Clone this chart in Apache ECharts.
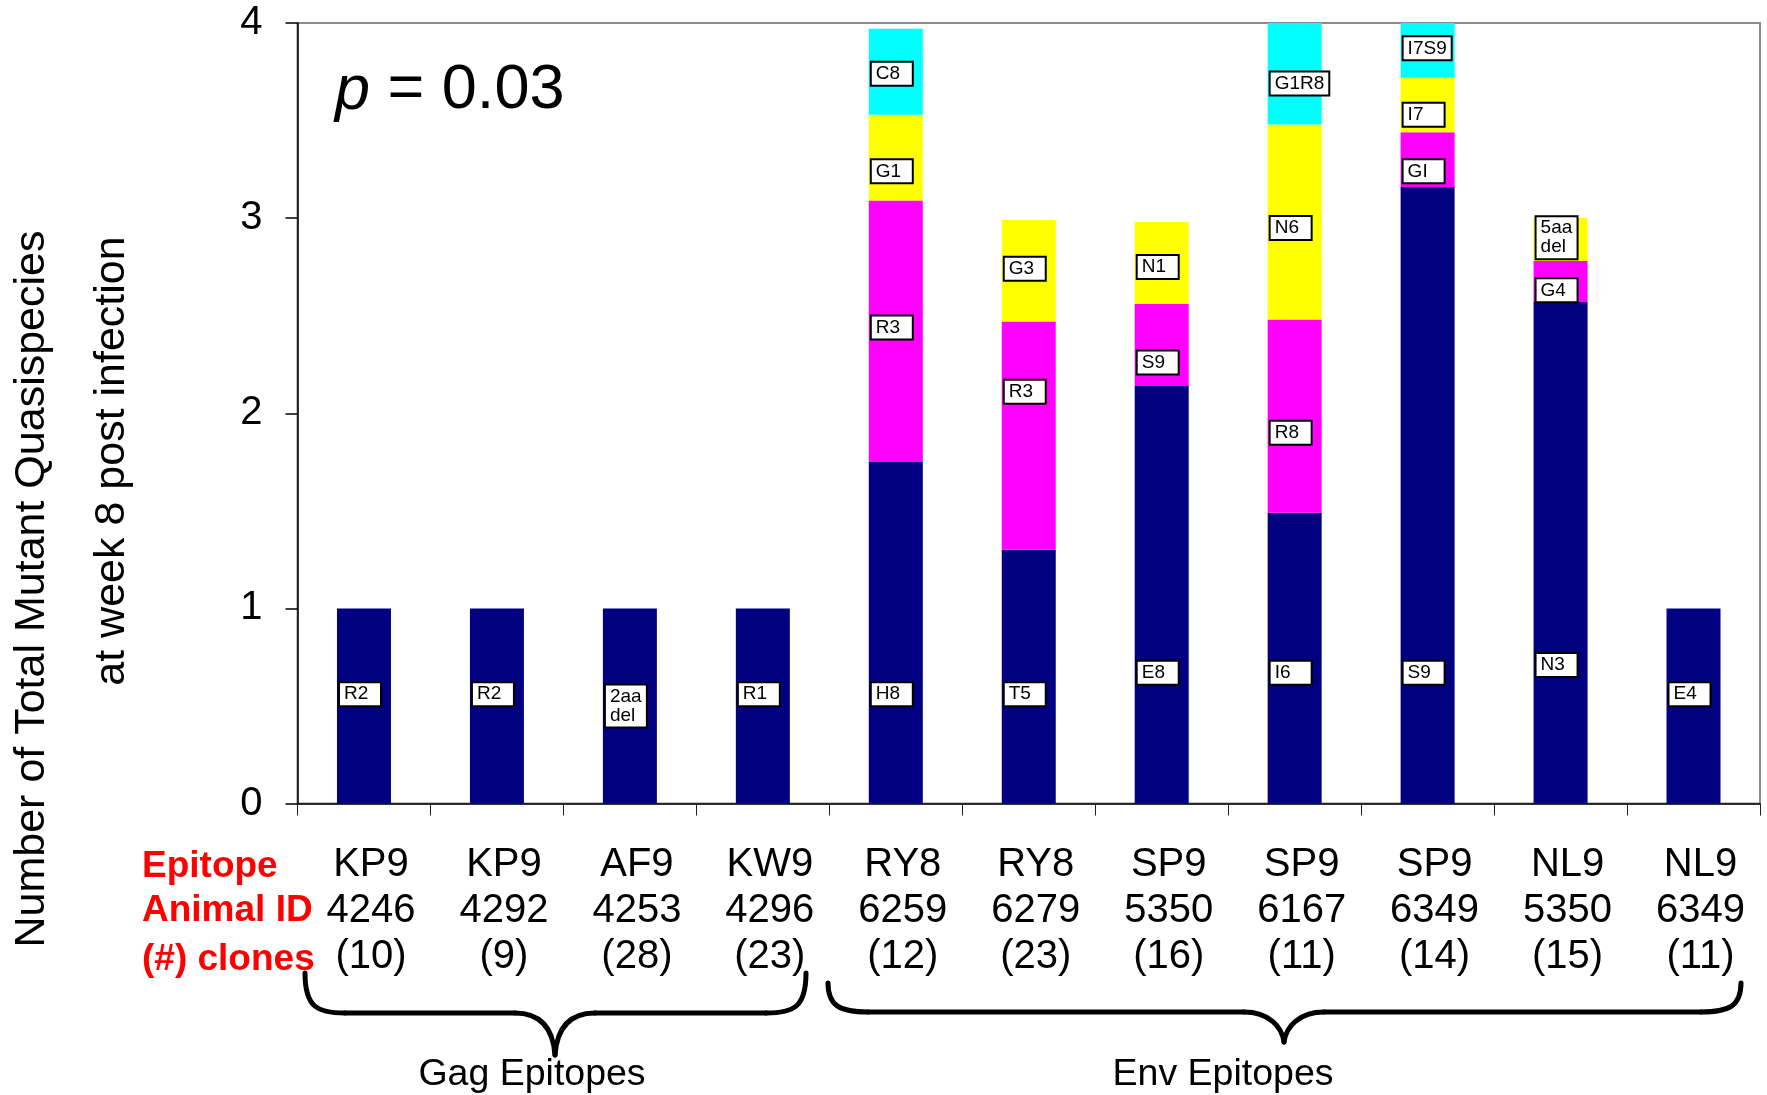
<!DOCTYPE html>
<html><head><meta charset="utf-8">
<script src="https://cdn.jsdelivr.net/npm/echarts@6/dist/echarts.min.js"></script>
<style>html,body{margin:0;padding:0;background:#fff}#c{width:1767px;height:1095px}</style>
</head><body><div id="c"></div>
<script>
// ---- data ----
const epitopes  = ['KP9','KP9','AF9','KW9','RY8','RY8','SP9','SP9','SP9','NL9','NL9'];
const animalIds = ['4246','4292','4253','4296','6259','6279','5350','6167','6349','5350','6349'];
const clones    = ['(10)','(9)','(28)','(23)','(12)','(23)','(16)','(11)','(14)','(15)','(11)'];

const navyValues    = [1, 1, 1, 1, 1.75, 1.30, 2.14, 1.49, 3.16, 2.57, 1];
const magentaValues = [null, null, null, null, 1.34, 1.17, 0.42, 0.99, 0.28, 0.21, null];
const yellowValues  = [null, null, null, null, 0.44, 0.52, 0.42, 1.00, 0.28, 0.22, null];
const cyanValues    = [null, null, null, null, 0.44, null, null, 0.52, 0.30, null, null];

const navyNames    = ['R2','R2','2aa\ndel','R1','H8','T5','E8','I6','S9','N3','E4'];
const magentaNames = [null,null,null,null,'R3','R3','S9','R8','GI','G4',null];
const yellowNames  = [null,null,null,null,'G1','G3','N1','N6','I7','5aa\ndel',null];
const cyanNames    = [null,null,null,null,'C8',null,null,'G1R8','I7S9',null,null];

// label anchor levels (in axis units)
const navyLabelAt    = [0.56,0.56,0.50,0.56,0.56,0.56,0.67,0.67,0.67,0.71,0.56];
const magentaLabelAt = [null,null,null,null,2.44,2.11,2.26,1.90,3.24,2.63,null];
const yellowLabelAt  = [null,null,null,null,3.24,2.74,2.75,2.95,3.53,2.90,null];
const cyanLabelAt    = [null,null,null,null,3.74,null,null,3.69,3.87,null,null];

const yTicks = [0, 1, 2, 3, 4];
const pValueText = '0.03';
const rowHeaders = ['Epitope', 'Animal ID', '(#) clones'];
const groupNames = ['Gag Epitopes', 'Env Epitopes'];
const yTitle = ['Number of Total Mutant Quasispecies', 'at week 8 post infection'];

// ---- chart ----
const FONT = 'Liberation Sans, Arial, sans-serif';
const categories = epitopes.map((e, i) => e + '\n' + animalIds[i] + '\n' + clones[i]);

function barSeries(name, values, color) {
  return { name, type: 'bar', stack: 'total', data: values, barWidth: 54,
    itemStyle: { color, opacity: 1 }, silent: true, animation: false };
}
function labelSeries(names, at) {
  const data = [];
  names.forEach((n, i) => {
    if (n == null) return;
    const item = { value: [i, at[i]], name: n };
    const oneLine = n.indexOf('\n') < 0;
    if (!(oneLine && n.length > 2)) item.label = { width: 32 };
    data.push(item);
  });
  return {
    type: 'scatter', symbolSize: 0, z: 10, silent: true, animation: false, data,
    itemStyle: { opacity: 1, color: '#000' },
    label: {
      show: true, position: 'right', distance: 0, offset: [-24, 0],
      formatter: p => p.name, fontFamily: FONT, fontSize: 19, lineHeight: 19,
      color: '#000', backgroundColor: '#ffffff', borderColor: '#000000', borderWidth: 2,
      padding: [2, 4, 1, 4], align: 'left', opacity: 1
    }
  };
}

// brace decoration built from bezier curves and straight lines
function brace(x0, x1, tipX, topY, midY, tipY) {
  const st = { stroke: '#000', lineWidth: 5, fill: null, lineCap: 'round' };
  const r = 40;
  const els = [];
  els.push({ type: 'bezierCurve', silent: true, style: st,
    shape: { x1: x0, y1: topY, cpx1: x0, cpy1: midY - 6, cpx2: x0 + 12, cpy2: midY, x2: x0 + r, y2: midY } });
  els.push({ type: 'line', silent: true, style: st, shape: { x1: x0 + r, y1: midY, x2: tipX - r, y2: midY } });
  els.push({ type: 'bezierCurve', silent: true, style: st,
    shape: { x1: tipX - r, y1: midY, cpx1: tipX - 15, cpy1: midY, cpx2: tipX - 2, cpy2: midY + 15, x2: tipX, y2: tipY } });
  els.push({ type: 'bezierCurve', silent: true, style: st,
    shape: { x1: tipX, y1: tipY, cpx1: tipX + 2, cpy1: midY + 15, cpx2: tipX + 15, cpy2: midY, x2: tipX + r, y2: midY } });
  els.push({ type: 'line', silent: true, style: st, shape: { x1: tipX + r, y1: midY, x2: x1 - r, y2: midY } });
  els.push({ type: 'bezierCurve', silent: true, style: st,
    shape: { x1: x1 - r, y1: midY, cpx1: x1 - 12, cpy1: midY, cpx2: x1, cpy2: midY - 6, x2: x1, y2: topY } });
  return els;
}

const chart = echarts.init(document.getElementById('c'), null, { renderer: 'canvas' });
chart.setOption({
  animation: false,
  backgroundColor: '#fff',
  grid: { left: 297.5, right: 7, top: 23, bottom: 291.5, show: true,
    borderColor: '#8c8c8c', borderWidth: 2, backgroundColor: 'transparent' },
  xAxis: {
    type: 'category', data: categories,
    axisLine: { lineStyle: { color: '#000', width: 1.5 } },
    axisTick: { show: true, interval: 0, length: 12, lineStyle: { color: '#222', width: 1 } },
    axisLabel: { interval: 0, margin: 38, fontFamily: FONT, fontSize: 40, lineHeight: 46,
      color: '#000', padding: [0, 0, 0, 14] }
  },
  yAxis: {
    type: 'value', min: yTicks[0], max: yTicks[yTicks.length - 1], interval: 1,
    splitLine: { show: false },
    axisLine: { show: true, lineStyle: { color: '#000', width: 1.5 } },
    axisTick: { show: true, length: 12, lineStyle: { color: '#000', width: 1.5 } },
    axisLabel: { margin: 35, fontFamily: FONT, fontSize: 40, color: '#000' }
  },
  series: [
    barSeries('navy', navyValues, '#000080'),
    barSeries('magenta', magentaValues, '#ff00ff'),
    barSeries('yellow', yellowValues, '#ffff00'),
    barSeries('cyan', cyanValues, '#00ffff'),
    labelSeries(navyNames, navyLabelAt),
    labelSeries(magentaNames, magentaLabelAt),
    labelSeries(yellowNames, yellowLabelAt),
    labelSeries(cyanNames, cyanLabelAt)
  ],
  graphic: [
    { type: 'text', x: 32, y: 589, rotation: Math.PI / 2, silent: true,
      style: { text: yTitle[0], font: '43px ' + FONT, fill: '#000', align: 'center', verticalAlign: 'middle' } },
    { type: 'text', x: 112, y: 461, rotation: Math.PI / 2, silent: true,
      style: { text: yTitle[1], font: '43px ' + FONT, fill: '#000', align: 'center', verticalAlign: 'middle' } },
    { type: 'text', x: 335, y: 91, silent: true, z: 20,
      style: { text: '{i|p} = ' + pValueText, font: '63px ' + FONT, fill: '#000', align: 'left', verticalAlign: 'middle',
        rich: { i: { fontStyle: 'italic', fontSize: 63, fontFamily: FONT } } } },
    { type: 'text', x: 142, y: 867, silent: true,
      style: { text: rowHeaders[0], font: 'bold 37px ' + FONT, fill: '#ff0000', align: 'left', verticalAlign: 'middle' } },
    { type: 'text', x: 142, y: 911, silent: true,
      style: { text: rowHeaders[1], font: 'bold 37px ' + FONT, fill: '#ff0000', align: 'left', verticalAlign: 'middle' } },
    { type: 'text', x: 142, y: 960, silent: true,
      style: { text: rowHeaders[2], font: 'bold 37px ' + FONT, fill: '#ff0000', align: 'left', verticalAlign: 'middle' } },
    ...brace(305, 806, 555, 973, 1013, 1055),
    ...brace(828, 1741, 1284, 983, 1012, 1042),
    { type: 'text', x: 532, y: 1075, silent: true,
      style: { text: groupNames[0], font: '37.5px ' + FONT, fill: '#000', align: 'center', verticalAlign: 'middle' } },
    { type: 'text', x: 1223, y: 1075, silent: true,
      style: { text: groupNames[1], font: '37.5px ' + FONT, fill: '#000', align: 'center', verticalAlign: 'middle' } }
  ]
});
</script></body></html>
